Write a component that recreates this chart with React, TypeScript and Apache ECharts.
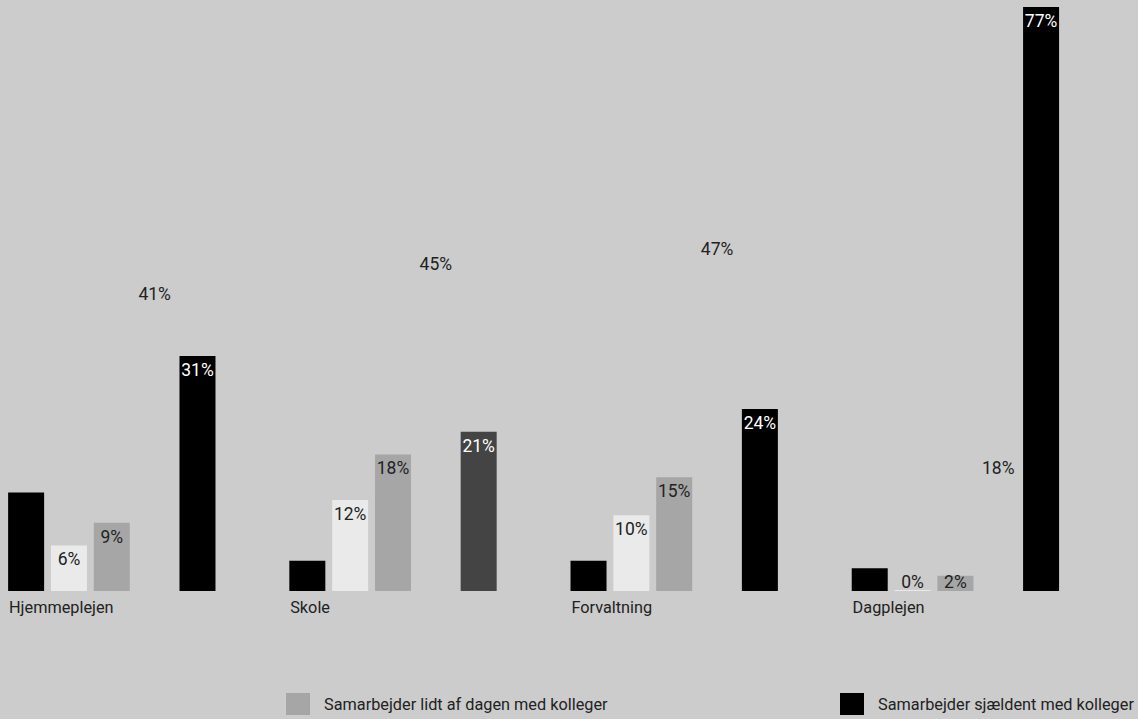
import React, { useEffect, useRef } from "react";
import * as echarts from "echarts";

const categories = ["Hjemmeplejen", "Skole", "Forvaltning", "Dagplejen"];
const seriesNames = [
  "Samarbejder hele dagen med kolleger",
  "Samarbejder det meste af dagen med kolleger",
  "Samarbejder lidt af dagen med kolleger",
  "Samarbejder en gang imellem med kolleger",
  "Samarbejder sjældent med kolleger",
];
const values1 = [13, 4, 4, 3];
const values2 = [6, 12, 10, 0];
const values3 = [9, 18, 15, 2];
const values4 = [41, 45, 47, 18];
const values5 = [31, 21, 24, 77];
const legendShown = [seriesNames[2], seriesNames[4]];

const FONT = "Roboto";
const TEXT = "#222222";

export default function App() {
  const ref = useRef<HTMLDivElement>(null);
  useEffect(() => {
    if (!ref.current) return;
    const chart = echarts.init(ref.current, null, { renderer: "svg" });
    const colors = ["#000000", "#eaeaea", "#a6a6a6", "rgba(0,0,0,0)", "#000000"];
    const labelColors = [TEXT, TEXT, TEXT, TEXT, "#ffffff"];
    const allValues = [values1, values2, values3, values4, values5];
    const series = allValues.map((vals, si) => ({
      name: seriesNames[si],
      type: "bar",
      barWidth: 36,
      barGap: "19%",
      barMinHeight: si === 1 ? 1 : 0,
      itemStyle: { color: colors[si] },
      data: vals.map((v, ci) => {
        const item: any = { value: v };
        if (si === 4 && categories[ci] === "Skole") {
          item.itemStyle = { color: "#444444" };
        }
        if (v <= 2) {
          item.label = { position: "insideBottom", distance: 0 };
        }
        return item;
      }),
      label: {
        show: si !== 0,
        position: "insideTop",
        distance: 5,
        formatter: "{c}%",
        color: labelColors[si],
        fontFamily: FONT,
        fontSize: 17.5,
      },
    }));
    const legendBase = {
      top: 693,
      padding: 0,
      itemWidth: 24,
      itemHeight: 22,
      icon: "rect",
      textStyle: { fontSize: 16.3, color: TEXT, fontFamily: FONT, padding: [0, 0, 0, 9] },
    };
    chart.setOption({
      animation: false,
      backgroundColor: "#cccccc",
      textStyle: { fontFamily: FONT },
      grid: {
        left: -28.8,
        width: 1124.8,
        top: 7,
        bottom: 128,
        containLabel: false,
        outerBoundsMode: "none",
      },
      xAxis: {
        type: "category",
        data: categories,
        axisLine: { show: false },
        axisTick: { show: false },
        axisLabel: {
          interval: 0,
          margin: 8,
          formatter: (v: string) => `{a|${v}}`,
          rich: {
            a: { width: 205.6, align: "left", fontSize: 16.3, fontFamily: FONT, color: TEXT },
          },
        },
      },
      yAxis: {
        type: "value",
        min: 0,
        max: 77,
        show: false,
        splitLine: { show: false },
      },
      legend: [
        { ...legendBase, data: [legendShown[0]], left: 286 },
        { ...legendBase, data: [legendShown[1]], left: 840 },
      ],
      series,
    });
    return () => chart.dispose();
  }, []);
  return (
    <div
      ref={ref}
      style={{ position: "fixed", left: 0, top: 0, width: 1138, height: 719 }}
    />
  );
}
